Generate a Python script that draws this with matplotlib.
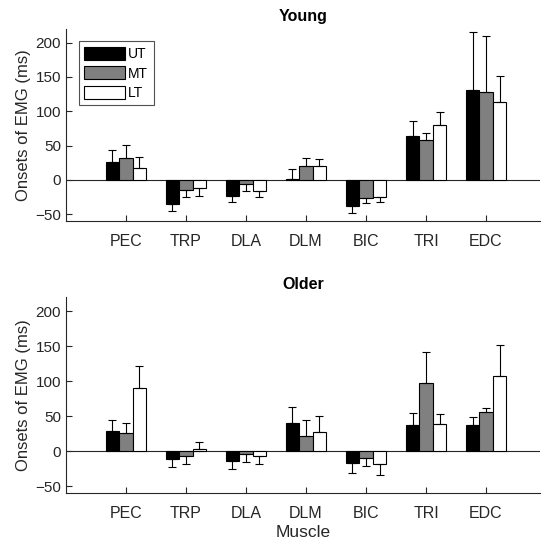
import numpy as np
import matplotlib
matplotlib.use("Agg")
import matplotlib.pyplot as plt

plt.rcParams['font.family'] = ['Liberation Sans', 'DejaVu Sans']

muscles = ['PEC', 'TRP', 'DLA', 'DLM', 'BIC', 'TRI', 'EDC']
groups = ['UT', 'MT', 'LT']
colors = ['black', '#808080', 'white']

# Young: means and error (sd) per group
young_ut = [26.4, -34.6, -23.0, 1.4, -37.5, 64.0, 130.8]
young_mt = [32.2, -14.4, -5.3, 20.2, -26.4, 57.7, 127.9]
young_lt = [17.8, -11.5, -16.3, 20.2, -25.0, 79.8, 113.5]
young_ut_err = [17.3, 10.1, 8.7, 14.5, 11.1, 22.0, 85.1]
young_mt_err = [18.8, 10.1, 10.6, 12.0, 7.7, 10.6, 82.1]
young_lt_err = [16.2, 11.5, 8.2, 10.6, 7.7, 19.2, 37.5]

# Older
older_ut = [29.0, -11.4, -14.3, 40.5, -17.1, 37.6, 37.6]
older_mt = [25.2, -6.7, -3.8, 21.9, -9.5, 97.6, 55.7]
older_lt = [90.5, 2.9, -7.1, 27.1, -18.6, 39.0, 107.6]
older_ut_err = [15.8, 11.5, 11.4, 22.8, 14.3, 16.7, 11.4]
older_mt_err = [15.3, 11.4, 11.9, 22.9, 11.9, 44.3, 5.3]
older_lt_err = [31.4, 10.4, 11.0, 22.9, 15.7, 14.3, 43.4]

fig = plt.figure(figsize=(5.43, 5.46), dpi=100)
ax1 = fig.add_axes([0.1215, 0.595, 0.873, 0.352])
ax2 = fig.add_axes([0.1215, 0.097, 0.873, 0.359])

x = np.arange(1, len(muscles) + 1)
width = 0.225
txt = '#262626'


def draw_panel(ax, means, errs, title):
    for i, (m, e) in enumerate(zip(means, errs)):
        pos = x + (i - 1) * width
        m = np.array(m)
        e = np.array(e)
        ax.bar(pos, m, width, color=colors[i], edgecolor='black',
               linewidth=0.8, label=groups[i], zorder=2)
        lower = np.where(m < 0, e, 0)
        upper = np.where(m >= 0, e, 0)
        ax.errorbar(pos, m, yerr=[lower, upper], fmt='none', ecolor='black',
                    elinewidth=0.8, capsize=3, capthick=0.8, zorder=3)
    ax.axhline(0, color='#262626', linewidth=0.8, zorder=1)
    ax.set_xlim(0, 7.9)
    ax.set_ylim(-60, 220)
    ax.set_yticks([-50, 0, 50, 100, 150, 200])
    ax.set_xticks(x)
    ax.set_xticklabels(muscles)
    ax.spines['top'].set_visible(False)
    ax.spines['right'].set_visible(False)
    for s in ('left', 'bottom'):
        ax.spines[s].set_color('#262626')
        ax.spines[s].set_linewidth(0.8)
    ax.tick_params(direction='in', length=4, width=0.8, colors='#262626',
                   labelsize=11, labelcolor=txt)
    ax.tick_params(axis='x', pad=9, labelsize=11.5)
    ax.set_ylabel('Onsets of EMG (ms)', fontsize=12, color=txt, labelpad=3)
    ax.set_title(title, fontsize=11.5, fontweight='bold', color='black', pad=6)


draw_panel(ax1, [young_ut, young_mt, young_lt],
           [young_ut_err, young_mt_err, young_lt_err], 'Young')
draw_panel(ax2, [older_ut, older_mt, older_lt],
           [older_ut_err, older_mt_err, older_lt_err], 'Older')

handles = [plt.Rectangle((0, 0), 1, 1, facecolor=c, edgecolor='black', linewidth=0.8)
           for c in colors]
leg = ax1.legend(handles, groups, loc='upper left', bbox_to_anchor=(0.027, 0.935),
                 fontsize=10, frameon=True, fancybox=False, edgecolor='#262626',
                 handlelength=2.95, handleheight=1.08, handletextpad=0.2,
                 labelspacing=0.36, borderpad=0.4, borderaxespad=0)
leg.get_frame().set_linewidth(0.8)

ax2.set_xlabel('Muscle', fontsize=12.5, color=txt, labelpad=3)

fig.savefig('out.png', dpi=100)
